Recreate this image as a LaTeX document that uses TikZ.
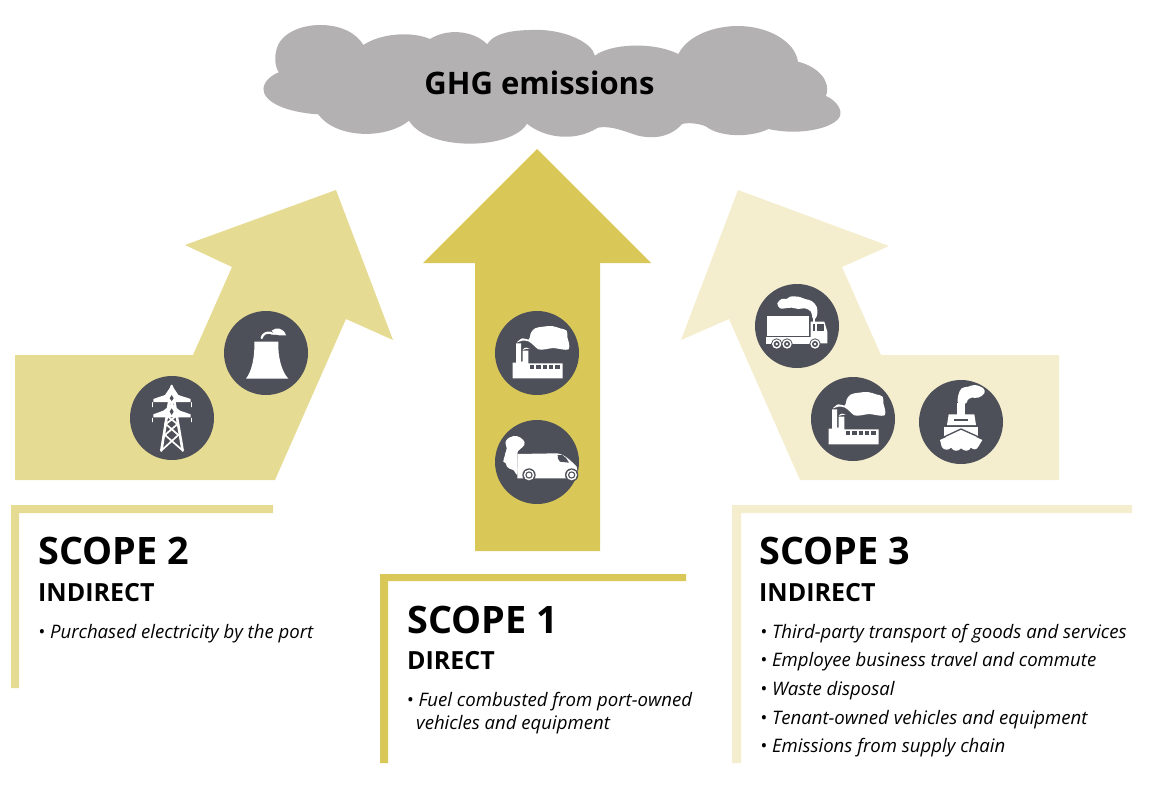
\documentclass[tikz,border=0pt]{standalone}
\usepackage{fontspec}
\setmainfont{Open Sans}
\definecolor{scopeone}{HTML}{D9C858}
\definecolor{scopetwo}{HTML}{E6DB93}
\definecolor{scopethree}{HTML}{F4EDCE}
\definecolor{disc}{HTML}{4D5058}
\definecolor{cloudgrey}{HTML}{B3B1B1}
\tikzset{
  bighead/.style={anchor=base west,inner sep=0pt,font=\bfseries\fontsize{37.8}{37.8}\selectfont},
  subhead/.style={anchor=base west,inner sep=0pt,font=\bfseries\fontsize{25}{25}\selectfont},
  itemtext/.style={anchor=base west,inner sep=0pt,font=\itshape\fontsize{18.6}{18.6}\selectfont},
  iconscope/.style={shift={#1},scale=1/3},
  iconline/.style={draw=white,line cap=round,line join=round},
  discdot/.style={circle,fill=disc,minimum size=84pt,inner sep=0pt}
}
\newcommand{\factoryicon}{%
  \fill[white] (83,235) -- (83,188) -- (93,188) -- (93,130) -- (108,130) -- (108,185) -- (113,185) -- (113,152) -- (130,152) -- (130,190) -- (233,190) -- (233,235) -- cycle;
  \foreach \wx in {135,154,173,192,211}{\fill[disc] (\wx,196) rectangle ++(13,12);}
  \fill[white] plot[smooth cycle,tension=0.6] coordinates {(96,127) (112,115) (132,118) (137,100) (150,85) (175,80) (200,78) (225,85) (245,92) (247,112) (252,130) (251,148) (230,148) (205,144) (180,148) (160,148) (145,135) (130,124) (112,122)};
  \fill[white] (113,150) .. controls (118,140) and (128,142) .. (135,146) .. controls (128,146) and (120,146) .. (113,150) -- cycle;
}
\begin{document}
\begin{tikzpicture}[x=1pt,y=-1pt]
\useasboundingbox (0,0) rectangle (1151,789);
% arrows
\fill[scopetwo] (15,355) -- (193,355) -- (232,267) -- (185,245) -- (336,190) -- (393,340) -- (346,319) -- (275,480) -- (15,480) -- cycle;
\fill[scopeone] (537,149) -- (651,263) -- (600,263) -- (600,551) -- (475,551) -- (475,263) -- (423,263) -- cycle;
\fill[scopethree] (1059,355) -- (881,355) -- (842,267) -- (889,246) -- (738,190) -- (681,340) -- (729,319) -- (800,480) -- (1059,480) -- cycle;
% cloud
\begin{scope}[shift={(255,15)},xscale=1/2.61,yscale=1/3]
\fill[cloudgrey] (62,172) .. controls (50,150) and (52,120) .. (56,105) .. controls (65,55) and (120,30) .. (170,30) .. controls (225,30) and (265,55) .. (283,90)
 .. controls (320,60) and (400,45) .. (457,72)
 .. controls (500,40) and (570,45) .. (606,88)
 .. controls (630,40) and (720,45) .. (750,45) .. controls (820,50) and (880,85) .. (887,122)
 .. controls (930,85) and (1040,80) .. (1105,117)
 .. controls (1130,60) and (1200,33) .. (1260,33) .. controls (1340,33) and (1410,80) .. (1417,140)
 .. controls (1470,155) and (1505,200) .. (1490,243)
 .. controls (1515,255) and (1530,280) .. (1528,297) .. controls (1525,335) and (1430,365) .. (1340,342)
 .. controls (1290,370) and (1210,365) .. (1178,335)
 .. controls (1160,325) and (1130,322) .. (1115,327)
 .. controls (1090,360) and (1050,375) .. (1000,362) .. controls (970,352) and (930,330) .. (895,338)
 .. controls (830,385) and (750,365) .. (710,326)
 .. controls (670,405) and (450,410) .. (402,317)
 .. controls (340,375) and (210,370) .. (165,298)
 .. controls (80,292) and (20,260) .. (22,220) .. controls (25,195) and (45,180) .. (62,172) -- cycle;
\end{scope}
\node[anchor=base,inner sep=0pt,font=\bfseries\fontsize{31}{31}\selectfont] (ghg) at (539.5,95) {GHG emissions};
% discs
\node[discdot] (pylon) at (172,418) {};
\node[discdot] (tower) at (266,353) {};
\node[discdot] (factoryA) at (537,353) {};
\node[discdot] (van) at (537,462) {};
\node[discdot] (truck) at (797,326) {};
\node[discdot] (factoryB) at (853,419) {};
\node[discdot] (ship) at (961,422) {};
% pylon and tower (zoom coordinates)
\begin{scope}[iconscope={(120,300)}]
 \draw[iconline,line width=2.6pt] (155,258) -- (124,452) (155,258) -- (188,452);
 \draw[iconline,line width=1.7pt] (135,370) -- (175,405) -- (128,448) (175,370) -- (135,405) -- (184,448) (138,345)--(172,372) (172,345)--(138,372) (145,298)--(167,330) (165,298)--(143,330);
 \fill[white] (155,255) -- (135,285) -- (100,297) -- (100,306) -- (212,306) -- (212,297) -- (175,285) -- cycle;
 \fill[white] (155,312) -- (130,332) -- (100,343) -- (100,352) -- (212,352) -- (212,343) -- (180,332) -- cycle;
 \fill[disc] (155,285) -- (161,295) -- (155,303) -- (149,295) -- cycle;
 \fill[disc] (155,325) -- (161,335) -- (155,345) -- (149,335) -- cycle;
 \draw[iconline,line width=1.3pt] (97,308)--(97,320) (97,355)--(97,365) (214,308)--(214,320) (214,355)--(214,365);
 \fill[white] (378,236) .. controls (395,215) and (405,170) .. (403,125) -- (475,125) .. controls (473,170) and (485,215) .. (505,236) -- cycle;
 \draw[iconline,line width=2.2pt] (425,114) .. controls (428,102) and (438,97) .. (450,98) .. controls (458,104) and (468,100) .. (480,98);
 \fill[white] (455,92) .. controls (468,80) and (492,84) .. (498,106) .. controls (485,106) and (472,108) .. (462,100) -- cycle;
\end{scope}
% factory 1
\begin{scope}[iconscope={(485,300)}]
 \factoryicon
 % van
 \fill[white] (97,462) -- (215,460) .. controls (240,462) and (260,485) .. (275,500) -- (278,525) -- (272,535) -- (97,535) -- cycle;
 \fill[disc] (218,465) -- (232,465) .. controls (240,470) and (248,478) .. (252,488) -- (225,485) .. controls (218,480) and (218,472) .. (218,465) -- cycle;
 \foreach \wx in {132,260}{
  \fill[disc] (\wx,525) circle (20);
  \fill[white] (\wx,525) circle (16);
  \fill[disc] (\wx,525) circle (11);
  \fill[white] (\wx,525) circle (7);
 }
 \fill[white] plot[smooth cycle,tension=0.6] coordinates {(75,412) (95,408) (115,420) (118,435) (105,448) (97,462) (97,522) (85,510) (72,505) (65,490) (55,485) (60,465) (65,445) (62,425)};
 \fill[white] (80,430) circle (18) (78,465) circle (18) (78,490) circle (16);
\end{scope}
% factory 2
\begin{scope}[iconscope={(801,366)}]
 \factoryicon
\end{scope}
% truck and ship
\begin{scope}[iconscope={(745,275)}]
 \fill[white] (67,123) rectangle (192,182);
 \fill[white] (62,187) rectangle (198,208);
 \fill[white] (197,140) -- (238,140) -- (247,170) -- (247,205) -- (197,205) -- cycle;
 \fill[disc] (217,148) rectangle (238,168);
 \fill[disc] (205,148) rectangle (209,168);
 \foreach \wx in {95,126,210}{
  \fill[disc] (\wx,207) circle (17);
  \fill[white] (\wx,207) circle (14);
  \fill[disc] (\wx,207) circle (9);
  \fill[white] (\wx,207) circle (4);
 }
 \fill[white] plot[smooth cycle,tension=0.6] coordinates {(97,85) (110,72) (125,72) (135,65) (160,65) (180,72) (200,78) (215,95) (217,115) (212,130) (203,130) (198,110) (180,100) (160,102) (140,98) (120,100) (105,100)};
 \fill[white] (203,120) rectangle (210,140);
 % ship
 \fill[white] (635,385) rectangle (660,420);
 \fill[white] (611,418) -- (688,418) -- (693,450) -- (606,450) -- cycle;
 \fill[disc] (628,431) rectangle (668,437);
 \fill[white] (597,455) rectangle (700,485);
 \fill[white] (585,495) -- (648,465) -- (712,495) -- (700,515) .. controls (695,525) and (685,525) .. (678,518) .. controls (670,530) and (660,530) .. (648,520) .. controls (640,530) and (625,530) .. (618,518) .. controls (610,528) and (595,525) .. (590,515) -- cycle;
 \draw[disc,line width=1.3pt] (588,490) -- (648,462) -- (710,490);
 \fill[white] plot[smooth cycle,tension=0.6] coordinates {(640,385) (640,360) (650,340) (670,335) (690,330) (715,340) (718,355) (700,368) (680,368) (668,375) (663,385)};
\end{scope}
% label frames
\fill[scopetwo] (11,505) -- (273,505) -- (273,513) -- (19,513) -- (19,688) -- (11,688) -- cycle;
\fill[scopeone] (380,574) -- (686,574) -- (686,581) -- (388,581) -- (388,763) -- (380,763) -- cycle;
\fill[scopethree] (732,505) -- (1132,505) -- (1132,513) -- (741,513) -- (741,763) -- (732,763) -- cycle;
% texts
\node[bighead] (s2) at (38,564) {SCOPE 2};
\node[subhead] (s2sub) at (38,601) {INDIRECT};
\node[itemtext] (s2a) at (38,638) {• Purchased electricity by the port};
\node[bighead] (s1) at (407,633) {SCOPE 1};
\node[subhead] (s1sub) at (407,669) {DIRECT};
\node[itemtext] (s1a) at (406.5,706) {• Fuel combusted from port-owned};
\node[itemtext] (s1b) at (416,729) {vehicles and equipment};
\node[bighead] (s3) at (759,564) {SCOPE 3};
\node[subhead] (s3sub) at (759,601) {INDIRECT};
\node[itemtext] (s3a) at (760,638) {• Third-party transport of goods and services};
\node[itemtext] (s3b) at (760,666) {• Employee business travel and commute};
\node[itemtext] (s3c) at (760,695) {• Waste disposal};
\node[itemtext] (s3d) at (760,724) {• Tenant-owned vehicles and equipment};
\node[itemtext] (s3e) at (760,752) {• Emissions from supply chain};
\end{tikzpicture}
\end{document}
